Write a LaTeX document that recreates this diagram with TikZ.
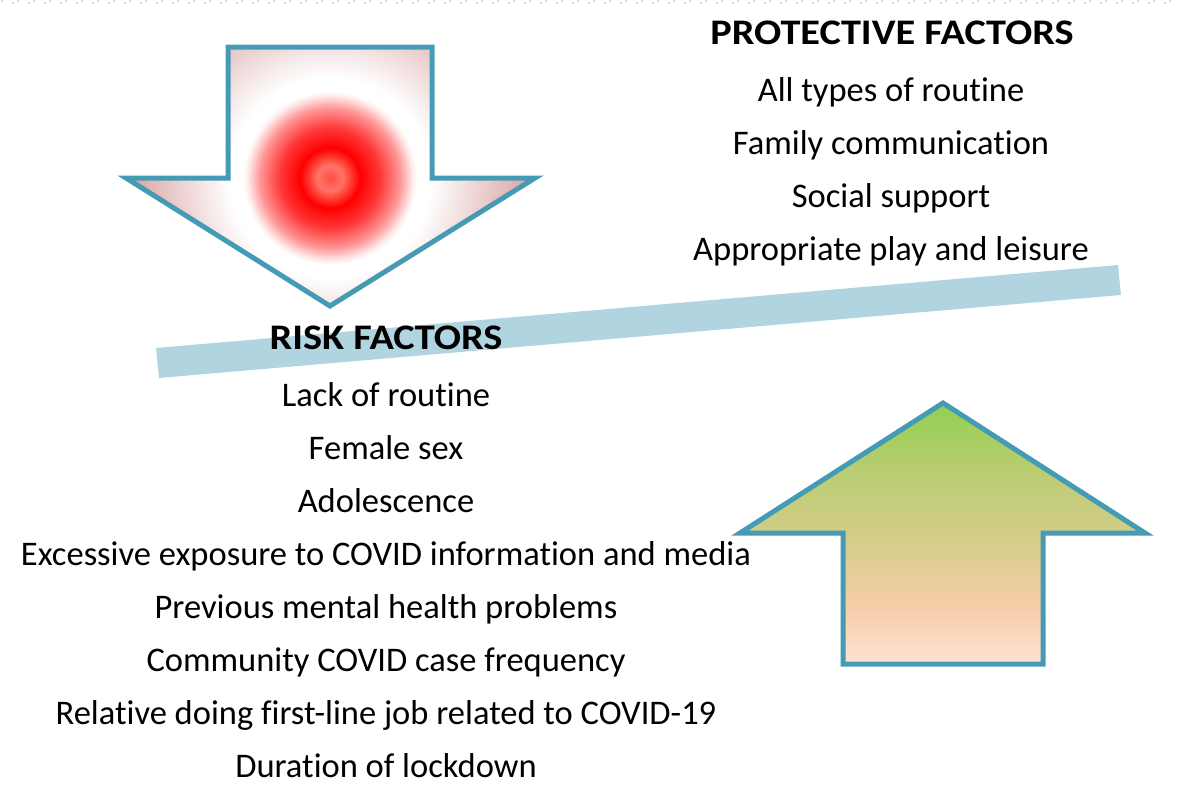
\documentclass[tikz,border=0pt]{standalone}
\usepackage{fontspec}
\setmainfont{Carlito}[Ligatures=NoCommon]
\newfontfamily\headfont{Carlito}[Ligatures=NoCommon, FakeStretch=1.12]

% Palette
\definecolor{edgeblue}{RGB}{70,155,180}
\definecolor{barblue}{RGB}{176,212,224}
\definecolor{dotblue}{RGB}{205,220,236}
\definecolor{glowA}{RGB}{255,80,65}
\definecolor{glowB}{RGB}{255,115,105}
\definecolor{glowC}{RGB}{255,55,55}
\definecolor{glowD}{RGB}{255,150,150}
\definecolor{glowE}{RGB}{255,232,232}
\definecolor{glowEdge}{RGB}{198,118,118}
\definecolor{upTop}{RGB}{146,208,80}
\definecolor{upUpper}{RGB}{185,205,115}
\definecolor{upMid}{RGB}{210,205,135}
\definecolor{upPeach}{RGB}{248,205,170}
\definecolor{upBottom}{RGB}{253,227,210}

% Red glow inside the downward arrow (path bounding box = central 50bp)
\pgfdeclareradialshading{redglow}{\pgfpoint{0bp}{0bp}}{%
  color(0bp)=(glowA); color(1.3bp)=(glowB); color(1.8bp)=(glowA);
  color(3bp)=(red); color(5bp)=(glowC); color(7bp)=(glowD);
  color(8.2bp)=(glowE); color(8.7bp)=(white); color(10bp)=(white);
  color(25bp)=(glowEdge); color(50bp)=(glowEdge)}

% Green-to-peach fill of the upward arrow (bottom to top)
\pgfdeclareverticalshading{greenpeach}{100bp}{%
  color(0bp)=(upBottom); color(25bp)=(upBottom); color(35.5bp)=(upPeach);
  color(50bp)=(upMid); color(62bp)=(upUpper); color(75bp)=(upTop);
  color(100bp)=(upTop)}

\tikzset{
  arrowedge/.style={draw=edgeblue, line width=5pt, line join=miter},
  heading/.style={anchor=base, font=\headfont\fontsize{36}{42}\selectfont\bfseries},
  item/.style={anchor=base, font=\fontsize{34.5}{40}\selectfont},
}

\begin{document}
\begin{tikzpicture}[x=1pt, y=-1pt]
\useasboundingbox (0,0) rectangle (1179,787);

% dotted rule along the top edge
\draw[dotblue, line width=2pt, dash pattern=on 2pt off 14pt] (1,1) -- (1179,1);
\draw[dotblue, line width=2pt, dash pattern=on 2pt off 14pt, dash phase=-11pt] (1,3) -- (1179,3);

% tilted balance bar
\fill[barblue] (156,348) -- (1118,265) -- (1121,295) -- (159,378) -- cycle;

% downward arrow with red glow
\begin{scope}
  \clip (228,47) -- (432,47) -- (432,178) -- (535,178) -- (330,306)
        -- (126,178) -- (228,178) -- cycle;
  \fill[shading=redglow] (330,178) circle (250);
\end{scope}
\draw[arrowedge] (228,47) -- (432,47) -- (432,178) -- (535,178) -- (330,306)
      -- (126,178) -- (228,178) -- cycle;

% upward arrow
\shade[shading=greenpeach] (943,403) -- (1145,533) -- (1043,533) -- (1043,664)
      -- (843,664) -- (843,533) -- (740,533) -- cycle;
\draw[arrowedge] (943,403) -- (1145,533) -- (1043,533) -- (1043,664)
      -- (843,664) -- (843,533) -- (740,533) -- cycle;

% protective factors
\node[heading] (prot) at (892,44) {PROTECTIVE FACTORS};
\node[item] (p1) at (891,101) {All types of routine};
\node[item] (p2) at (891,154) {Family communication};
\node[item] (p3) at (891,207) {Social support};
\node[item] (p4) at (891,260) {Appropriate play and leisure};

% risk factors
\node[heading] (risk) at (386,349) {RISK FACTORS};
\node[item] (r1) at (386,406) {Lack of routine};
\node[item] (r2) at (386,459) {Female sex};
\node[item] (r3) at (386,512) {Adolescence};
\node[item] (r4) at (386,565) {Excessive exposure to COVID information and media};
\node[item] (r5) at (386,618) {Previous mental health problems};
\node[item] (r6) at (386,671) {Community COVID case frequency};
\node[item] (r7) at (386,724) {Relative doing first-line job related to COVID-19};
\node[item] (r8) at (386,777) {Duration of lockdown};
\end{tikzpicture}
\end{document}
